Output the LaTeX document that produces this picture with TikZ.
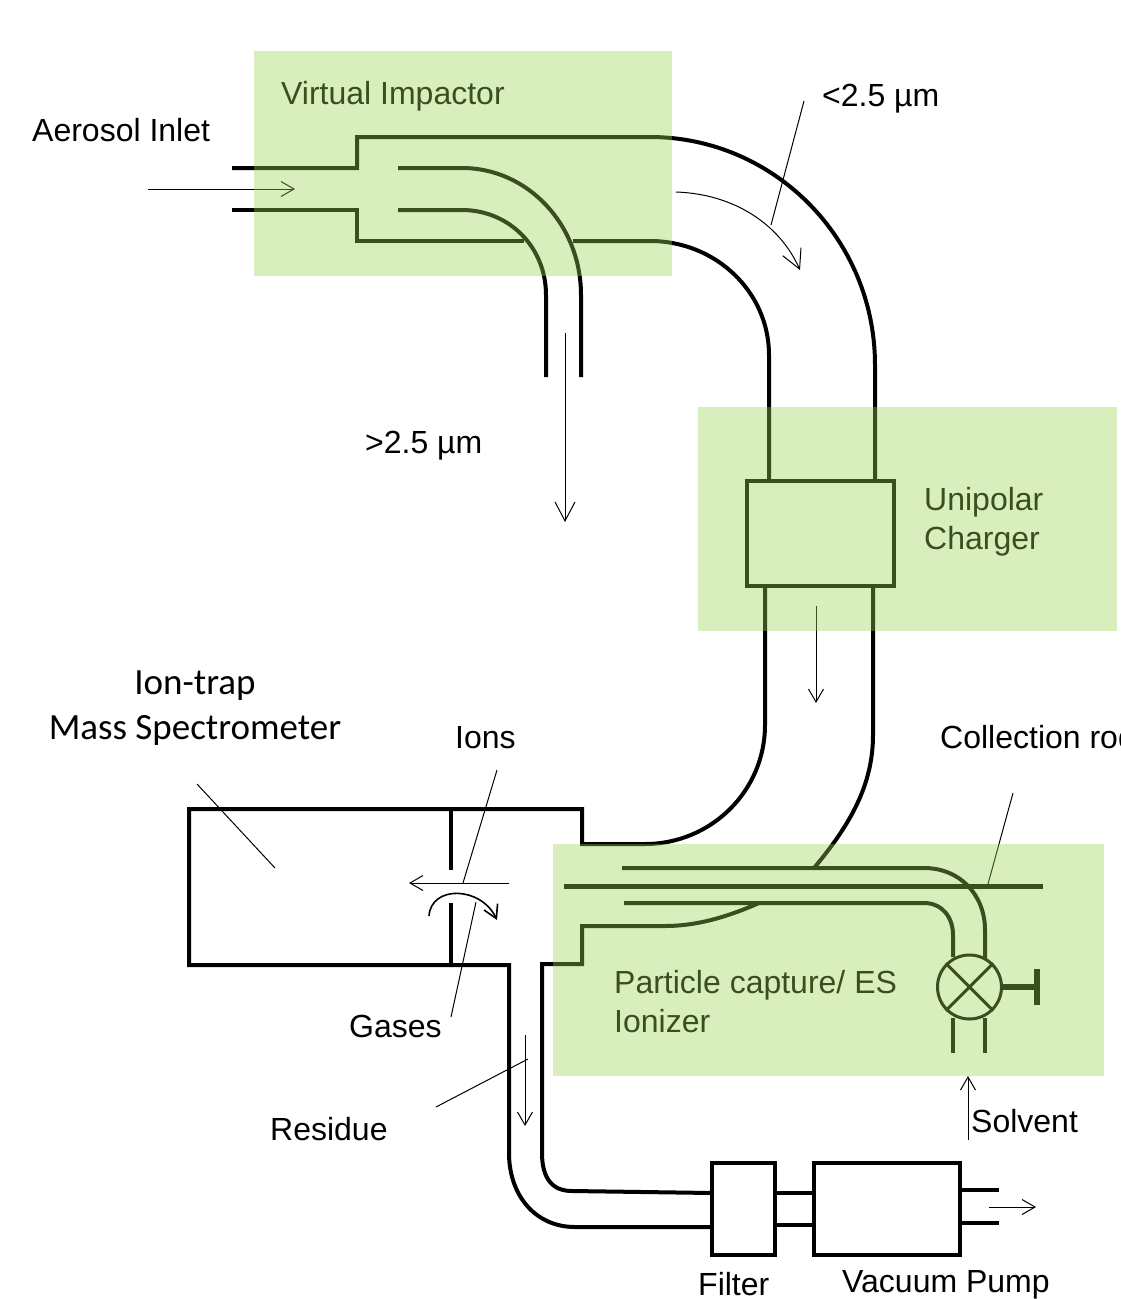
\documentclass[tikz,border=0pt]{standalone}
\usepackage{fontspec}
\setmainfont{Liberation Sans}
\newfontfamily\callfont{Carlito}
\usepackage{xcolor}
\usetikzlibrary{positioning,arrows.meta}
\definecolor{zonegreen}{RGB}{154,210,80}
\tikzset{
  tube/.style={line width=4pt},
  figbox/.style={draw, line width=4pt, inner sep=0pt, fill=white},
  figarrow/.style={-{Straight Barb[length=13pt,width=15pt]}, line width=1pt},
  figarrowbig/.style={-{Straight Barb[length=19pt,width=20pt]}, line width=1pt},
  figleader/.style={line width=1pt},
  figlabel/.style={font=\fontsize{32}{38.5}\selectfont, align=left, anchor=base west, inner sep=0pt},
  figtitle/.style={font=\callfont\fontsize{37}{45}\selectfont, align=center, anchor=base, inner sep=0pt},
  figzone/.style={fill=zonegreen, fill opacity=.376, draw=none},
}
\begin{document}
\begin{tikzpicture}[x=1pt,y=-1pt]
  \useasboundingbox (0,0) rectangle (1120,1299);
  \clip (0,0) rectangle (1120,1299);
  % impactor
  \draw[tube] (232,168) -- (357,168) -- (357,137) -- (650,137)
    .. controls (774,137) and (875,239) .. (875,365) -- (875,481);
  \draw[tube] (232,210) -- (357,210) -- (357,241) -- (524,241);
  \draw[tube] (573,241) -- (650,241)
    .. controls (716,241) and (769,292) .. (769,355) -- (769,481);
  \draw[tube] (398,168) -- (462,168)
    .. controls (528,168) and (581,225) .. (581,295) -- (581,377);
  \draw[tube] (398,210) -- (462,210)
    .. controls (509,210) and (546,247) .. (546,295) -- (546,377);
  % charger and the way down
  \node[figbox, minimum width=147pt, minimum height=105pt] (charger) at (820.5,533.5) {};
  \draw[tube] (765,586) -- (765,725) .. controls (765,791) and (711,844) .. (645,844)
    -- (582,844) -- (582,809) -- (189,809) -- (189,965) -- (509,965) -- (509,1153)
    .. controls (509,1195) and (535,1227) .. (575,1227) -- (712,1227);
  \draw[tube] (873,586) -- (873,735) .. controls (873,785) and (850,825) .. (814,868);
  \draw[tube] (451,809) -- (451,870);
  \draw[tube] (451,903) -- (451,965);
  % capture tube and rod
  \draw[tube] (622,868) -- (924,868) .. controls (960,868) and (985,895) .. (985,930) -- (985,962);
  \draw[tube] (624,903) -- (924,903) .. controls (942,903) and (953,917) .. (953,935) -- (953,957);
  \draw[tube] (759,903) .. controls (725,918) and (695,926) .. (665,926) -- (582,926)
    -- (582,964) -- (542,964) -- (542,1153) .. controls (542,1178) and (552,1191) .. (572,1191) -- (712,1193);
  \draw[line width=5pt] (564,886) -- (1043,886);
  % valve
  \node[draw, circle, line width=3pt, fill=white, minimum size=64pt, inner sep=0pt] (valve) at (969.5,987) {};
  \draw[line width=3pt] (valve.north west) -- (valve.south east);
  \draw[line width=3pt] (valve.north east) -- (valve.south west);
  \coordinate (handle) at (1037,987);
  \draw[line width=6pt] (valve.east) -- (handle);
  \draw[line width=6pt] ([yshift=-18pt]handle) -- ([yshift=18pt]handle);
  \draw[tube] (953,1018) -- (953,1053);
  \draw[tube] (985,1018) -- (985,1053);
  % filter and pump
  \node[figbox, minimum width=63pt, minimum height=92pt] (filter) at (743,1209) {};
  \node[figbox, minimum width=146pt, minimum height=92pt] (pump) at (887,1209) {};
  \draw[tube] ([yshift=-16pt]filter.east) -- ([yshift=-16pt]pump.west);
  \draw[tube] ([yshift=16pt]filter.east) -- ([yshift=16pt]pump.west);
  \coordinate (pumpupper) at (999,1190);
  \coordinate (pumplower) at (999,1223);
  \draw[tube] (pump.east |- pumpupper) -- (pumpupper);
  \draw[tube] (pump.east |- pumplower) -- (pumplower);
  % labels
  \node[figlabel] (inletlabel) at (32,141.5) {Aerosol Inlet};
  \node[figlabel] (impactorlabel) at (281,104) {Virtual Impactor};
  \node[figlabel] (finelabel) at (822,106) {<2.5 µm};
  \node[figlabel] (coarselabel) at (365,453) {>2.5 µm};
  \node[figlabel] (chargerlabel) at (924,549) {Unipolar\\Charger};
  \node[figtitle] (traplabel) at (195,739) {Ion-trap\\Mass Spectrometer};
  \node[figlabel] (ionslabel) at (455,748) {Ions};
  \node[figlabel] (rodlabel) at (940,748) {Collection rod};
  \node[figlabel] (gaseslabel) at (349,1037) {Gases};
  \node[figlabel] (capturelabel) at (614,1032) {Particle capture/ ES\\Ionizer};
  \node[figlabel] (residuelabel) at (270,1140) {Residue};
  \node[figlabel] (solventlabel) at (971,1132) {Solvent};
  \node[figlabel] (filterlabel) at (698,1295) {Filter};
  \node[figlabel] (pumplabel) at (842,1292) {Vacuum Pump};
  % flow arrows
  \coordinate (inletstart) at (148,189);
  \coordinate (inletend) at (295,189);
  \draw[figarrow] (inletstart) -- (inletend);
  \coordinate (finestart) at (676,192);
  \coordinate (fineend) at (800,270);
  \draw[figarrowbig] (finestart) .. controls (735,194) and (780,225) .. (fineend);
  \coordinate (coarsestart) at (565,333);
  \coordinate (coarseend) at (565,522);
  \draw[figarrowbig] (coarsestart) -- (coarseend);
  \coordinate (downstart) at (816,606);
  \coordinate (downend) at (816,703);
  \draw[figarrow] (downstart) -- (downend);
  \coordinate (ionstart) at (509,883);
  \coordinate (ionend) at (409,883);
  \draw[figarrow] (ionstart) -- (ionend);
  \coordinate (gasstart) at (429,916);
  \coordinate (gasend) at (497,920);
  \draw[figarrow, line width=1.6pt] (gasstart) .. controls (431,885) and (481,886) .. (gasend);
  \coordinate (residuestart) at (525,1035);
  \coordinate (residueend) at (525,1126);
  \draw[figarrow] (residuestart) -- (residueend);
  \coordinate (solventstart) at (968,1140);
  \coordinate (solventend) at (968,1076);
  \draw[figarrow] (solventstart) -- (solventend);
  \coordinate (exitstart) at (989,1207);
  \coordinate (exitend) at (1036,1207);
  \draw[figarrow] (exitstart) -- (exitend);
  % leaders
  \coordinate (finetop) at (804,101);
  \coordinate (fineleader) at (771,225);
  \coordinate (traptop) at (197,784);
  \coordinate (trapleader) at (275,868);
  \coordinate (ionstop) at (497,770);
  \coordinate (ionsleader) at (463,883);
  \coordinate (gasesfoot) at (451,1017);
  \coordinate (gasesleader) at (476,902);
  \coordinate (residuefoot) at (436,1107);
  \coordinate (residueleader) at (528,1059);
  \coordinate (rodtop) at (1013,793);
  \coordinate (rodleader) at (988,884);
  \draw[figleader] (finetop) -- (fineleader);
  \draw[figleader] (traptop) -- (trapleader);
  \draw[figleader] (ionstop) -- (ionsleader);
  \draw[figleader] (gasesfoot) -- (gasesleader);
  \draw[figleader] (residuefoot) -- (residueleader);
  \draw[figleader] (rodtop) -- (rodleader);
  % green zones go on top, lines and text turn dark under them
  \fill[figzone] (254,51) rectangle (672,276);
  \fill[figzone] (698,407) rectangle (1117,631);
  \fill[figzone] (553,844) rectangle (1104,1076);
\end{tikzpicture}
\end{document}
